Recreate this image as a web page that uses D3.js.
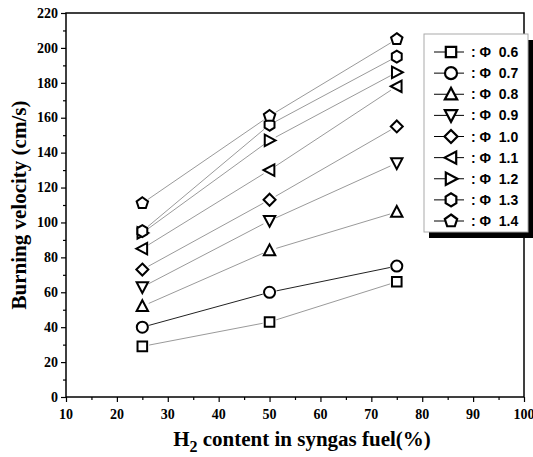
<!DOCTYPE html>
<html lang="en">
<head>
<meta charset="UTF-8">
<title>Burning velocity vs H2 content</title>
<script src="https://d3js.org/d3.v7.min.js"></script>
<style>
  body { margin: 0; background: #fff; }
  svg { display: block; }
</style>
</head>
<body>
<script>
// data
const h2Content = [25, 50, 75];
const phiLabels = ["0.6", "0.7", "0.8", "0.9", "1.0", "1.1", "1.2", "1.3", "1.4"];
const markerTypes = ["square", "circle", "triUp", "triDown", "diamond", "triLeft", "triRight", "hexagon", "pentagon"];
const phi06 = [29, 43, 66];
const phi07 = [40, 60, 75];
const phi08 = [52, 84, 106];
const phi09 = [63, 101, 134];
const phi10 = [73, 113, 155];
const phi11 = [85, 130, 178];
const phi12 = [94, 147, 186];
const phi13 = [95, 156, 195];
const phi14 = [111, 161, 205];
const seriesValues = [phi06, phi07, phi08, phi09, phi10, phi11, phi12, phi13, phi14];
const xTicks = [10, 20, 30, 40, 50, 60, 70, 80, 90, 100];
const yTicks = [0, 20, 40, 60, 80, 100, 120, 140, 160, 180, 200, 220];

const W = 533, H = 457;
const serif = "'Liberation Serif', 'Times New Roman', serif";
const svg = d3.select("body").append("svg").attr("width", W).attr("height", H);

const x = d3.scaleLinear().domain([10, 100]).range([66, 524]);
const y = d3.scaleLinear().domain([0, 220]).range([397, 13]);

// marker outlines, r is roughly the half width
function markerPath(type, r) {
  const poly = pts => "M" + pts.map(p => p[0].toFixed(2) + "," + p[1].toFixed(2)).join("L") + "Z";
  const ngon = (n, rot) => d3.range(n).map(i => {
    const a = rot + i * 2 * Math.PI / n;
    return [r * Math.cos(a), r * Math.sin(a)];
  });
  switch (type) {
    case "square": return poly([[-r * 0.8, -r * 0.8], [r * 0.8, -r * 0.8], [r * 0.8, r * 0.8], [-r * 0.8, r * 0.8]]);
    case "circle": return d3.symbol(d3.symbolCircle, Math.PI * r * r * 0.85)();
    case "triUp": return poly([[0, -r], [r * 0.95, r * 0.8], [-r * 0.95, r * 0.8]]);
    case "triDown": return poly([[0, r], [r * 0.95, -r * 0.8], [-r * 0.95, -r * 0.8]]);
    case "triLeft": return poly([[-r, 0], [r * 0.8, r * 0.95], [r * 0.8, -r * 0.95]]);
    case "triRight": return poly([[r, 0], [-r * 0.8, r * 0.95], [-r * 0.8, -r * 0.95]]);
    case "diamond": return poly([[0, -r], [r, 0], [0, r], [-r, 0]]);
    case "hexagon": return poly(ngon(6, Math.PI / 2).map(p => [p[0] * 0.95, p[1]]));
    case "pentagon": return poly(ngon(5, -Math.PI / 2));
  }
}

function tickLinesOnly(g) {
  g.select(".domain").remove();
  g.selectAll(".tick text").remove();
  g.selectAll(".tick line").attr("stroke", "#000").attr("stroke-width", 1.2);
}

// frame
svg.append("rect")
  .attr("x", x(10)).attr("y", y(220))
  .attr("width", x(100) - x(10)).attr("height", y(0) - y(220))
  .attr("fill", "none").attr("stroke", "#000").attr("stroke-width", 1.5);

// y axis ticks, major then minor
svg.append("g").attr("transform", `translate(${x(10)},0)`)
  .call(d3.axisLeft(y).tickValues(yTicks).tickSize(5))
  .call(tickLinesOnly);
svg.append("g").attr("transform", `translate(${x(10)},0)`)
  .call(d3.axisLeft(y).tickValues(d3.range(10, 220, 20)).tickSize(3))
  .call(tickLinesOnly);

// x axis ticks
svg.append("g").attr("transform", `translate(0,${y(0)})`)
  .call(d3.axisBottom(x).tickValues(xTicks).tickSize(5))
  .call(tickLinesOnly);
svg.append("g").attr("transform", `translate(0,${y(0)})`)
  .call(d3.axisBottom(x).tickValues(d3.range(15, 100, 10)).tickSize(3))
  .call(tickLinesOnly);

// tick labels
svg.append("g").selectAll("text")
  .data(yTicks)
  .join("text")
  .attr("x", x(10) - 8)
  .attr("y", d => y(d))
  .attr("dy", "0.34em")
  .attr("text-anchor", "end")
  .attr("font-family", serif).attr("font-weight", "bold").attr("font-size", 14)
  .text(d => d);
svg.append("g").selectAll("text")
  .data(xTicks)
  .join("text")
  .attr("x", d => x(d))
  .attr("y", y(0) + 22)
  .attr("text-anchor", "middle")
  .attr("font-family", serif).attr("font-weight", "bold").attr("font-size", 14)
  .text(d => d);

// axis titles
svg.append("text")
  .attr("transform", `translate(26,${(y(0) + y(220)) / 2}) rotate(-90)`)
  .attr("text-anchor", "middle")
  .attr("font-family", serif)
  .attr("font-weight", "bold").attr("font-size", 21)
  .text("Burning velocity (cm/s)");

const xt = svg.append("text")
  .attr("x", 302).attr("y", 446)
  .attr("text-anchor", "middle")
  .attr("font-family", serif)
  .attr("font-weight", "bold").attr("font-size", 21);
xt.append("tspan").text("H");
xt.append("tspan").attr("dy", 6).attr("font-size", 16).text("2");
xt.append("tspan").attr("dy", -6).text(" content in syngas fuel(%)");

// connecting lines, trimmed so they stop at the marker edge
const gap = 7;
seriesValues.forEach((vals, s) => {
  for (let i = 0; i < vals.length - 1; i++) {
    const x1 = x(h2Content[i]), y1 = y(vals[i]);
    const x2 = x(h2Content[i + 1]), y2 = y(vals[i + 1]);
    const len = Math.hypot(x2 - x1, y2 - y1);
    const ux = (x2 - x1) / len, uy = (y2 - y1) / len;
    svg.append("line")
      .attr("x1", x1 + ux * gap).attr("y1", y1 + uy * gap)
      .attr("x2", x2 - ux * gap).attr("y2", y2 - uy * gap)
      .attr("stroke", s === 1 ? "#222" : "#9a9a9a")
      .attr("stroke-width", 1);
  }
});

// markers
seriesValues.forEach((vals, s) => {
  svg.append("g").selectAll("path")
    .data(vals)
    .join("path")
    .attr("transform", (d, i) => `translate(${x(h2Content[i])},${y(d)})`)
    .attr("d", markerPath(markerTypes[s], 6))
    .attr("fill", "#fff")
    .attr("stroke", "#000")
    .attr("stroke-width", 2);
});

// legend
const lgX = 424, lgY = 34, lgW = 104, lgH = 198;
svg.append("rect").attr("x", lgX + 5).attr("y", lgY + 6)
  .attr("width", lgW).attr("height", lgH).attr("fill", "#000");
svg.append("rect").attr("x", lgX).attr("y", lgY)
  .attr("width", lgW).attr("height", lgH)
  .attr("fill", "#fff").attr("stroke", "#aaa").attr("stroke-width", 1);

const rowY = d3.scalePoint().domain(phiLabels).range([lgY + 18, lgY + 187]);
const lg = svg.append("g").selectAll("g")
  .data(phiLabels)
  .join("g")
  .attr("transform", d => `translate(${lgX},${rowY(d)})`);
lg.append("line").attr("x1", 10).attr("x2", 40)
  .attr("stroke", "#000").attr("stroke-width", 1);
lg.append("path")
  .attr("transform", "translate(27,0)")
  .attr("d", (d, i) => markerPath(markerTypes[i], 6.5))
  .attr("fill", "#fff").attr("stroke", "#000").attr("stroke-width", 2.2);
lg.append("text")
  .attr("x", 47).attr("dy", "0.36em")
  .attr("font-family", "'Liberation Sans', Arial, sans-serif")
  .attr("font-weight", "bold").attr("font-size", 14)
  .attr("xml:space", "preserve")
  .text(d => ": \u03A6  " + d);
</script>
</body>
</html>
